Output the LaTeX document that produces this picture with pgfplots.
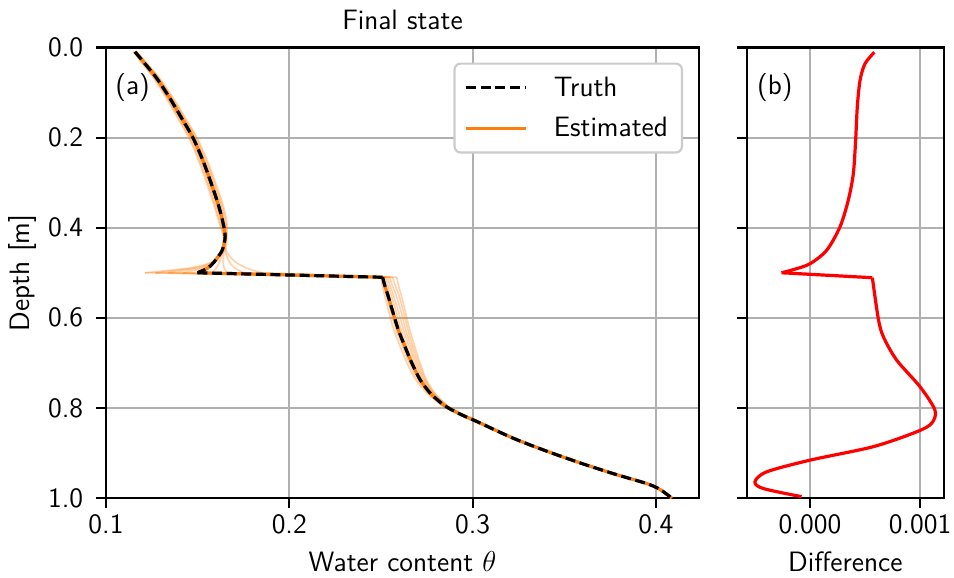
\documentclass[border=0pt]{standalone}
\usepackage{pgfplots}
\usepackage{pgfplotstable}
\pgfplotsset{compat=1.18}
\renewcommand{\familydefault}{\sfdefault}
\definecolor{gridgray}{RGB}{176,176,176}
\definecolor{taborange}{RGB}{255,127,14}
\newcommand{\fs}{\fontsize{14}{16.8}\selectfont}

\pgfplotstableread{
d t e1 e2 e3 e4 e5 e6 e7 e8
0.0095 0.1158 0.1148 0.1151 0.1154 0.1157 0.1159 0.1162 0.1165 0.1168
0.0317 0.1204 0.1191 0.1195 0.1198 0.1202 0.1206 0.1210 0.1213 0.1217
0.0685 0.1277 0.1261 0.1266 0.1270 0.1275 0.1279 0.1284 0.1288 0.1293
0.113 0.1349 0.1330 0.1336 0.1341 0.1346 0.1352 0.1357 0.1362 0.1368
0.157 0.1413 0.1392 0.1398 0.1404 0.1410 0.1416 0.1422 0.1428 0.1434
0.2016 0.1476 0.1454 0.1460 0.1467 0.1473 0.1479 0.1485 0.1492 0.1498
0.2534 0.1531 0.1507 0.1514 0.1521 0.1528 0.1534 0.1541 0.1548 0.1555
0.305 0.1577 0.1552 0.1559 0.1566 0.1573 0.1581 0.1588 0.1595 0.1602
0.3494 0.1613 0.1588 0.1595 0.1602 0.1609 0.1617 0.1624 0.1631 0.1638
0.3865 0.1637 0.1615 0.1621 0.1628 0.1634 0.1640 0.1646 0.1653 0.1659
0.42 0.1650 0.1640 0.1643 0.1646 0.1649 0.1651 0.1654 0.1657 0.1660
0.45 0.1634 0.1631 0.1633 0.1636 0.1638 0.1642 0.1645 0.1650 0.1655
0.47 0.1601 0.1595 0.1600 0.1605 0.1610 0.1625 0.1640 0.1665 0.1690
0.48 0.1581 0.1555 0.1566 0.1575 0.1585 0.1615 0.1640 0.1680 0.1720
0.49 0.1554 0.1448 0.1475 0.1505 0.1535 0.1600 0.1645 0.1705 0.1770
0.50 0.1499 0.1213 0.1270 0.1340 0.1420 0.1580 0.1660 0.1750 0.1850
0.51 0.2509 0.2500 0.2507 0.2515 0.2524 0.2535 0.2547 0.2564 0.2586
0.53 0.2522 0.2508 0.2517 0.2527 0.2538 0.2550 0.2563 0.2579 0.2597
0.55 0.2538 0.2520 0.2530 0.2543 0.2556 0.2568 0.2583 0.2598 0.2611
0.59 0.2567 0.2545 0.2557 0.2571 0.2585 0.2598 0.2612 0.2625 0.2635
0.627 0.2595 0.2570 0.2583 0.2597 0.2610 0.2623 0.2635 0.2647 0.2657
0.664 0.2631 0.2605 0.2618 0.2631 0.2643 0.2655 0.2665 0.2675 0.2685
0.70 0.2668 0.2641 0.2654 0.2666 0.2677 0.2687 0.2696 0.2705 0.2713
0.737 0.2713 0.2689 0.2700 0.2710 0.2719 0.2727 0.2734 0.2741 0.2747
0.767 0.2768 0.2750 0.2758 0.2765 0.2772 0.2778 0.2783 0.2788 0.2793
0.78 0.2802 0.2787 0.2793 0.2799 0.2805 0.2810 0.2814 0.2819 0.2823
0.793 0.2840 0.2827 0.2832 0.2837 0.2842 0.2846 0.2850 0.2854 0.2857
0.80 0.2867 0.2855 0.2860 0.2864 0.2869 0.2872 0.2876 0.2879 0.2882
0.81 0.2913 0.2903 0.2907 0.2911 0.2915 0.2918 0.2921 0.2924 0.2926
0.82 0.2965 0.2956 0.2960 0.2963 0.2966 0.2969 0.2971 0.2974 0.2976
0.83 0.3022 0.3014 0.3017 0.3020 0.3023 0.3025 0.3027 0.3029 0.3031
0.867 0.3220 0.3212 0.3215 0.3218 0.3221 0.3223 0.3225 0.3227 0.3229
0.896 0.3404 0.3396 0.3399 0.3402 0.3405 0.3407 0.3409 0.3411 0.3413
0.922 0.3586 0.3578 0.3581 0.3584 0.3587 0.3589 0.3591 0.3593 0.3595
0.946 0.3768 0.3760 0.3763 0.3766 0.3769 0.3771 0.3773 0.3775 0.3777
0.968 0.3950 0.3942 0.3945 0.3948 0.3951 0.3953 0.3955 0.3957 0.3959
0.981 0.4022 0.4016 0.4018 0.4020 0.4022 0.4023 0.4025 0.4027 0.4028
1.000 0.4086 0.4082 0.4083 0.4084 0.4085 0.4087 0.4088 0.4089 0.4090
}\tab

\pgfplotstableread{
d diff
0.0104 0.000585
0.036 0.000500
0.073 0.000455
0.132 0.000430
0.206 0.000415
0.280 0.000394
0.339 0.000348
0.398 0.000273
0.450 0.000152
0.480 0.000000
0.493 -0.000150
0.500 -0.000258
0.511 0.000567
0.602 0.000621
0.642 0.000667
0.694 0.000788
0.753 0.001000
0.805 0.001136
0.834 0.001106
0.853 0.000970
0.886 0.000576
0.916 0.000000
0.942 -0.000394
0.964 -0.000500
0.979 -0.000424
0.997 -0.000076
}\diff

\pgfplotsset{
  mystyle/.style={
    scale only axis, height=225.25pt,
    ymin=0, ymax=1, y dir=reverse,
    axis line style={line width=1.1pt},
    every tick/.style={black, line width=1.1pt},
    major tick length=4.9pt, tick align=outside,
    xtick pos=bottom, ytick pos=left,
    grid=major, grid style={gridgray, line width=1.1pt},
    tick label style={font=\fs},
    label style={font=\fs},
    ytick={0,0.2,0.4,0.6,0.8,1},
    scaled ticks=false,
  },
  ens/.style={taborange, opacity=0.35, line width=0.8pt, forget plot},
  truth/.style={black, line width=1.6pt, dash pattern=on 5pt off 2.3pt, forget plot},
  est/.style={taborange, line width=1.6pt, forget plot},
}

\begin{document}
\begin{tikzpicture}
\path[use as bounding box] (-53pt,-40pt) rectangle (424pt,249pt);
\begin{axis}[mystyle,
  width=296.5pt,
  xmin=0.1, xmax=0.4235,
  xtick={0.1,0.2,0.3,0.4}, xticklabels={0.1,0.2,0.3,0.4},
  yticklabels={0.0,0.2,0.4,0.6,0.8,1.0},
  yticklabel style={xshift=-3pt},
  xlabel={Water content $\theta$},
  ylabel={Depth [m]},
  xlabel style={at={(axis description cs:0.5,0)}, anchor=center, yshift=-32pt},
  ylabel style={at={(axis description cs:0,0.5)}, anchor=center, yshift=41.5pt},
  title={Final state},
  title style={font=\fs, at={(axis description cs:0.5,1)}, anchor=base, yshift=3pt, inner sep=0pt},
  legend cell align=left,
  legend image code/.code={\draw[#1] (0pt,0pt) -- (30pt,0pt);},
  legend style={font=\fs, at={(axis description cs:1,1)}, anchor=north east,
    xshift=-8pt, yshift=-7.5pt, draw=black!20, line width=1.1pt,
    rounded corners=3pt, inner xsep=5pt, inner ysep=4.5pt, row sep=5pt,
    nodes={inner sep=2pt},
    /tikz/every odd column/.append style={column sep=11pt}},
]
\pgfplotsinvokeforeach{e1,e2,e3,e4,e5,e6,e7,e8}{
  \addplot[ens, smooth, restrict y to domain=0:0.505] table[x=#1, y=d] {\tab};
  \addplot[ens, restrict y to domain=0.495:0.515] table[x=#1, y=d] {\tab};
  \addplot[ens, smooth, restrict y to domain=0.505:1.01] table[x=#1, y=d] {\tab};
}
\addplot[est, smooth, restrict y to domain=0:0.505] table[x=t, y=d] {\tab};
\addplot[est, restrict y to domain=0.495:0.515] table[x=t, y=d] {\tab};
\addplot[est, smooth, restrict y to domain=0.505:1.01] table[x=t, y=d] {\tab};
\addplot[truth, smooth, restrict y to domain=0:0.505] table[x=t, y=d] {\tab};
\addplot[truth, restrict y to domain=0.495:0.515] table[x=t, y=d] {\tab};
\addplot[truth, smooth, restrict y to domain=0.505:1.01] table[x=t, y=d] {\tab};
\addlegendimage{black, line width=1.6pt, dash pattern=on 5pt off 2.3pt}
\addlegendentry{Truth}
\addlegendimage{taborange, line width=1.6pt}
\addlegendentry{Estimated}
\node[anchor=west, inner sep=0pt, font=\fs] at (axis description cs:0,1) [xshift=4.5pt, yshift=-20pt] {(a)};
\end{axis}

\begin{axis}[mystyle,
  at={(320.35pt,0pt)}, anchor=south west,
  width=98.65pt,
  xmin=-0.000575, xmax=0.001218,
  xtick={0,0.001}, xticklabels={0.000,0.001},
  yticklabels={},
  xlabel={Difference},
  xlabel style={at={(axis description cs:0.5,0)}, anchor=center, yshift=-32pt},
]
\addplot[red, line width=1.6pt, smooth, restrict y to domain=0:0.505] table[x=diff, y=d] {\diff};
\addplot[red, line width=1.6pt, restrict y to domain=0.495:0.515] table[x=diff, y=d] {\diff};
\addplot[red, line width=1.6pt, smooth, restrict y to domain=0.505:1.01] table[x=diff, y=d] {\diff};
\node[anchor=west, inner sep=0pt, font=\fs] at (axis description cs:0,1) [xshift=5pt, yshift=-20pt] {(b)};
\end{axis}
\end{tikzpicture}
\end{document}
